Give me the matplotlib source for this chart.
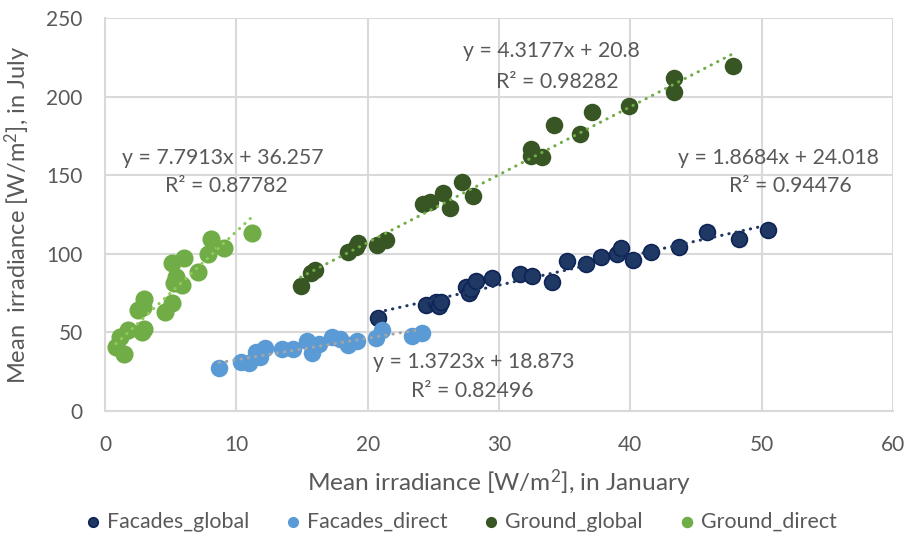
import matplotlib
matplotlib.use("Agg")
import matplotlib.pyplot as plt
import numpy as np

plt.rcParams['font.family'] = ['Lato', 'DejaVu Sans']
plt.rcParams['mathtext.fontset'] = 'custom'
plt.rcParams['mathtext.rm'] = 'Lato'
plt.rcParams['mathtext.it'] = 'Lato:italic'
plt.rcParams['mathtext.bf'] = 'Lato:bold'

# ---- data ----
series_names = ["Facades_global", "Facades_direct", "Ground_global", "Ground_direct"]

facades_global_x = [20.8, 24.45, 25.2, 25.4, 25.6, 27.5, 27.7, 27.9, 28.25, 29.5, 31.6, 32.5,
                    34.0, 35.2, 36.6, 37.75, 38.96, 39.3, 40.2, 41.6, 43.7, 45.8, 48.3, 50.5]
facades_global_y = [59.4, 67.2, 69.5, 66.8, 69.5, 78.7, 75.3, 77.4, 82.9, 84.8, 87.0, 85.7,
                    82.1, 95.4, 93.7, 98.2, 99.7, 103.9, 96.3, 101.3, 104.3, 113.9, 109.4, 115.1]

facades_direct_x = [8.7, 10.33, 11.0, 11.5, 11.8, 12.2, 13.45, 14.3, 15.35, 15.74, 16.3, 17.27,
                    17.9, 18.5, 19.2, 20.6, 21.1, 23.35, 24.1]
facades_direct_y = [27.1, 31.4, 30.3, 37.7, 34.5, 39.9, 39.4, 39.2, 44.7, 37.1, 42.4, 46.8,
                    46.0, 41.7, 44.5, 46.2, 51.5, 47.7, 49.4]

ground_global_x = [14.9, 15.67, 15.97, 18.53, 19.1, 19.3, 20.7, 21.4, 24.2, 24.75, 25.7, 26.3,
                   27.2, 28.0, 32.4, 32.4, 33.3, 34.2, 36.2, 37.1, 39.9, 43.3, 43.3, 47.8]
ground_global_y = [79.7, 88.0, 89.7, 101.0, 104.5, 106.6, 105.6, 108.8, 131.7, 132.7, 138.9, 129.3,
                   145.7, 137.0, 166.4, 162.4, 161.8, 181.9, 176.0, 190.0, 194.2, 212.0, 203.1, 219.2]

ground_direct_x = [0.84, 1.47, 1.14, 1.78, 2.79, 3.0, 2.54, 2.87, 2.95, 4.6, 5.1, 5.25, 5.9,
                   5.4, 7.1, 5.1, 6.02, 7.87, 8.07, 9.09, 11.2]
ground_direct_y = [40.9, 36.0, 46.8, 51.5, 50.5, 52.2, 64.2, 66.3, 71.0, 62.8, 68.5, 81.2, 80.2,
                   85.4, 88.6, 93.9, 97.1, 99.9, 109.4, 103.7, 113.4]

slopes = [1.8684, 1.3723, 4.3177, 7.7913]
intercepts = [24.018, 18.873, 20.8, 36.257]
r2_values = ["0.94476", "0.82496", "0.98282", "0.87782"]
eq_labels = ["y = 1.8684x + 24.018", "y = 1.3723x + 18.873", "y = 4.3177x + 20.8", "y = 7.7913x + 36.257"]

x_ticks = [0, 10, 20, 30, 40, 50, 60]
y_ticks = [0, 50, 100, 150, 200, 250]

# ---- styles ----
marker_colors = ["#1F3864", "#5B9BD5", "#375623", "#70AD47"]
edge_colors = ["#0E2356", "#5B9BD5", "#375623", "#70AD47"]
trend_colors = ["#1F3864", "#A5A5A5", "#70AD47", "#8FCB5A"]
text_color = "#595959"
grid_color = "#D9D9D9"

fig = plt.figure(figsize=(9.05, 5.38), dpi=100)
ax = fig.add_axes([105/905, 1 - 411/538, (893 - 105)/905, (411 - 18)/538])

xs = [facades_global_x, facades_direct_x, ground_global_x, ground_direct_x]
ys = [facades_global_y, facades_direct_y, ground_global_y, ground_direct_y]
sizes = [130, 130, 130, 140]

for i in range(4):
    ax.scatter(xs[i], ys[i], s=sizes[i], color=marker_colors[i], edgecolors=edge_colors[i],
               linewidths=1.2, zorder=3, label=series_names[i])

for i in range(4):
    xr = np.array([min(xs[i]), max(xs[i])])
    ax.plot(xr, slopes[i] * xr + intercepts[i], color=trend_colors[i], lw=2.2,
            linestyle=(0, (0.1, 2.3)), dash_capstyle='round', zorder=4)

# equation labels (positions in data coords)
eq_pos = [(51.3, 161.0), (28.1, 31.2), (34.0, 229.0), (9.0, 161.0)]
r2_pos = [(52.2, 143.0), (28.0, 12.7), (34.4, 209.0), (9.2, 143.0)]
for i in range(4):
    ax.text(eq_pos[i][0], eq_pos[i][1], eq_labels[i], ha='center', va='center',
            fontsize=15.3, color=text_color, zorder=5)
    ax.text(r2_pos[i][0], r2_pos[i][1], "R² = " + r2_values[i], ha='center', va='center',
            fontsize=15.3, color=text_color, zorder=5)

ax.set_xlim(0, 60)
ax.set_ylim(0, 250)
ax.set_xticks(x_ticks)
ax.set_yticks(y_ticks)
ax.tick_params(axis='both', length=0, labelsize=15, labelcolor=text_color)
ax.tick_params(axis='x', pad=17)
ax.tick_params(axis='y', pad=16)
ax.grid(True, color=grid_color, lw=1.5, zorder=0)
ax.set_axisbelow(True)
for s in ['top', 'right']:
    ax.spines[s].set_visible(False)
for s in ['left', 'bottom']:
    ax.spines[s].set_color(grid_color)
    ax.spines[s].set_linewidth(1.5)

ax.set_xlabel("Mean irradiance [W/m$^2$], in January", fontsize=17.6, color=text_color, labelpad=9)
ax.set_ylabel("Mean  irradiance [W/m$^2$], in July", fontsize=17, color=text_color, labelpad=10)

leg = fig.legend(loc='center', bbox_to_anchor=(0.51, 1 - 522/538), ncol=4, frameon=False,
                 fontsize=15.4, markerscale=0.6, handlelength=0.6, handletextpad=0.35,
                 columnspacing=1.75, labelcolor=text_color)

fig.savefig("out.png", dpi=100)
